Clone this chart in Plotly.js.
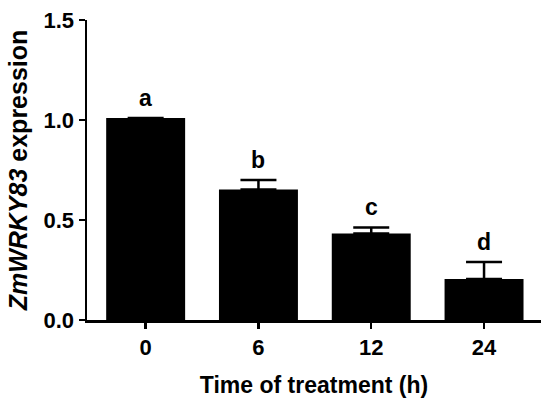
<!DOCTYPE html>
<html>
<head>
<meta charset="utf-8">
<script src="https://cdn.plot.ly/plotly-3.0.1.min.js"></script>
<style>html,body{margin:0;padding:0;background:#fff;}#chart{width:550px;height:411px;}</style>
</head>
<body>
<div id="chart"></div>
<script>
const categories = ["0", "6", "12", "24"];
const expression = [1.01, 0.653, 0.433, 0.205];
const errorUp = [0.0, 0.047, 0.03, 0.085];
const letters = ["a", "b", "c", "d"];
const yTicks = [0, 0.5, 1.0, 1.5];

const FONT = "Arial, 'Liberation Sans', sans-serif";

const trace = {
  type: "bar",
  x: categories,
  y: expression,
  width: 0.7,
  marker: {color: "#000000", line: {width: 0}},
  error_y: {
    type: "data",
    symmetric: false,
    array: errorUp,
    arrayminus: categories.map(() => 0),
    color: "#000000",
    thickness: 2.5,
    width: 18
  },
  hoverinfo: "skip"
};

const annotations = categories.map((c, i) => ({
  x: i,
  y: expression[i] + errorUp[i],
  xref: "x",
  yref: "y",
  text: "<b>" + letters[i] + "</b>",
  showarrow: false,
  yanchor: "bottom",
  yshift: 5,
  font: {family: FONT, size: 23, color: "#000"}
}));

const layout = {
  width: 550,
  height: 411,
  margin: {l: 87, r: 9, t: 20, b: 91},
  paper_bgcolor: "#fff",
  plot_bgcolor: "#fff",
  showlegend: false,
  font: {family: FONT, color: "#000"},
  xaxis: {
    type: "category",
    range: [-0.52, 3.505],
    showline: true,
    linecolor: "#000",
    linewidth: 2.5,
    ticks: "outside",
    ticklen: 6,
    tickwidth: 2.5,
    tickcolor: "#000",
    showgrid: false,
    zeroline: false,
    tickfont: {family: FONT, size: 22, color: "#000", weight: "bold"},
    title: {text: "<b>Time of treatment (h)</b>", font: {family: FONT, size: 23, color: "#000"}, standoff: 18}
  },
  yaxis: {
    range: [0, 1.5],
    tickvals: yTicks,
    tickformat: ".1f",
    showline: true,
    linecolor: "#000",
    linewidth: 2.5,
    ticks: "outside",
    ticklen: 6,
    tickwidth: 2.5,
    tickcolor: "#000",
    showgrid: false,
    zeroline: false,
    tickfont: {family: FONT, size: 22, color: "#000", weight: "bold"},
    title: {text: "<b><i>ZmWRKY83</i> expression</b>", font: {family: FONT, size: 25, color: "#000"}, standoff: 9}
  },
  annotations: annotations
};

Plotly.newPlot("chart", [trace], layout, {displayModeBar: false, staticPlot: true});
</script>
</body>
</html>
